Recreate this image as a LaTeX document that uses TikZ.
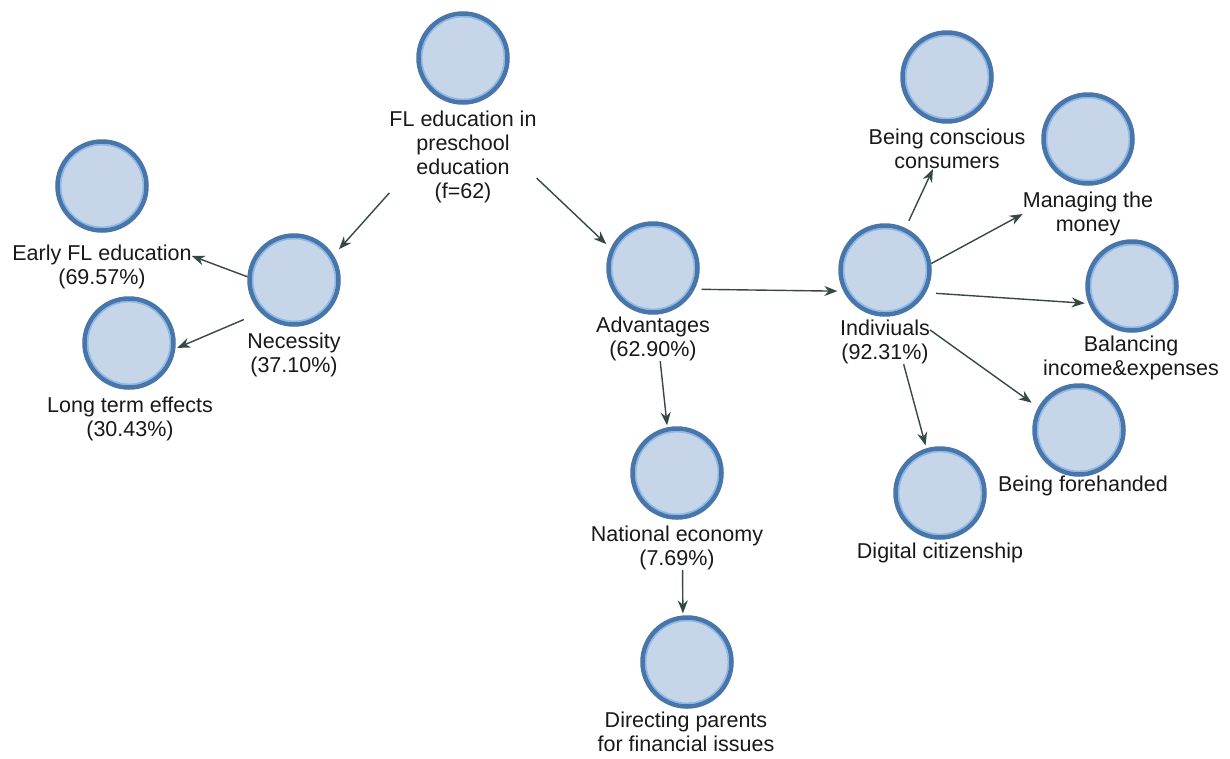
\documentclass[tikz,border=0pt]{standalone}
\usepackage{fontspec}
\setmainfont{Liberation Sans}
\usetikzlibrary{arrows.meta}
\definecolor{fillc}{RGB}{199,213,233}
\definecolor{ringc}{RGB}{72,118,170}
\definecolor{ringl}{RGB}{140,185,232}
\definecolor{arrc}{RGB}{52,72,72}
\definecolor{txtc}{RGB}{25,25,25}
\begin{document}
\begin{tikzpicture}[x=1pt,y=-1pt,
  bub/.style={circle, draw=ringc, line width=4.5pt, fill=fillc, minimum size=89pt, inner sep=0pt,
    path picture={\draw[ringl, line width=1.5pt] (path picture bounding box.center) circle (41.3pt);}},
  lbl/.style={align=center, inner sep=0pt, text=txtc, font=\fontsize{21.5pt}{24pt}\selectfont},
  con/.style={draw=arrc, line width=1.4pt, -{Stealth[length=13pt,width=10pt]}}]
\fill[white] (0,0) rectangle (1230,758);
\useasboundingbox (0,0) rectangle (1230,758);
% circles
\node[bub] (root) at (463,58) {};
\node[bub] (early) at (102,186) {};
\node[bub] (nec) at (294,280) {};
\node[bub] (long) at (129,343) {};
\node[bub] (adv) at (653,268) {};
\node[bub] (nat) at (677,473) {};
\node[bub] (dir) at (687,662) {};
\node[bub] (ind) at (885,270) {};
\node[bub] (cons) at (947,77) {};
\node[bub] (man) at (1088,139) {};
\node[bub] (bal) at (1132,286) {};
\node[bub] (fore) at (1079,430) {};
\node[bub] (dig) at (940,493) {};
% labels
\node[lbl] (rootl) at (463,157) {FL education in\\preschool\\education\\(f=62)};
\node[lbl] (earlyl) at (102,267) {Early FL education\\(69.57\%)};
\node[lbl] (necl) at (294,355) {Necessity\\(37.10\%)};
\node[lbl] (longl) at (130,419) {Long term effects\\(30.43\%)};
\node[lbl] (advl) at (653,339) {Advantages\\(62.90\%)};
\node[lbl] (natl) at (677,548) {National economy\\(7.69\%)};
\node[lbl] (dirl) at (686,732) {Directing parents\\for financial issues};
\node[lbl] (indl) at (885,342) {Indiviuals\\(92.31\%)};
\node[lbl] (consl) at (947,149) {Being conscious\\consumers};
\node[lbl] (manl) at (1088,214) {Managing the\\money};
\node[lbl] (ball) at (1131,358) {Balancing\\income\&expenses};
\node[lbl] (forel) at (1083,486) {Being forehanded};
\node[lbl] (digl) at (940,553) {Digital citizenship};
% connectors
\draw[con, shorten >=8pt] (rootl.206) -- (nec.32);
\draw[con, shorten >=6pt] (rootl.-16) -- (adv.155);
\draw[con] (nec.176) -- (earlyl.7);
\draw[con, shorten <=18pt, shorten >=2pt] (nec.224) -- (long.-7);
\draw[con, shorten <=7pt, shorten >=6pt] (adv.-27) -- (ind.207);
\draw[con, shorten >=2pt] (advl.-72) -- (nat.102);
\draw[con, shorten >=2pt] (natl.-76) -- (dir.95);
\draw[con, shorten <=8pt] (ind.64) -- (consl.235);
\draw[con] (ind.8) -- (manl.west);
\draw[con, shorten <=10pt, shorten >=4pt] (ind.-29) -- (bal.202);
\draw[con, shorten >=8pt] (indl.15) -- (fore.151);
\draw[con, shorten >=3pt] (indl.-50) -- (dig.107);
\end{tikzpicture}
\end{document}
